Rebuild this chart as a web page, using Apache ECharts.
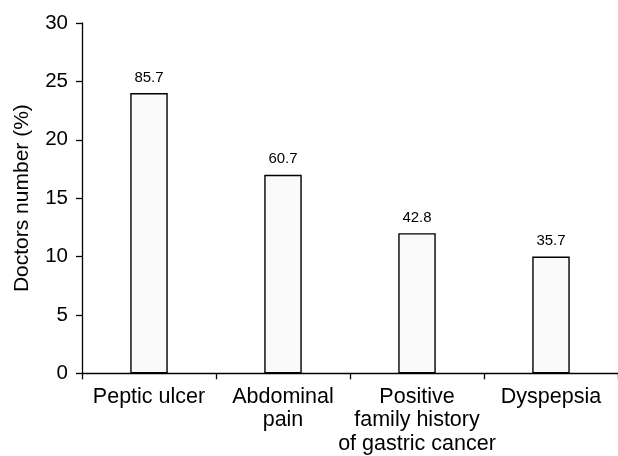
<!DOCTYPE html>
<html>
<head>
<meta charset="utf-8">
<script src="https://cdn.jsdelivr.net/npm/echarts@6/dist/echarts.min.js"></script>
<style>
  html, body { margin: 0; padding: 0; background: #fff; }
  #chart { width: 618px; height: 456px; }
</style>
</head>
<body>
<div id="chart"></div>
<script>
// categories and values
let categories = ['Peptic ulcer', 'Abdominal\npain', 'Positive\nfamily history\nof gastric cancer', 'Dyspepsia'];
let doctorsNumber = [24, 17, 12, 10];
let percentLabels = ['85.7', '60.7', '42.8', '35.7'];

let font = 'Liberation Sans, Arial, sans-serif';
let myChart = echarts.init(document.getElementById('chart'));

// the plot runs a little past the right edge of the picture, so the last tick is cut off
let option = {
    animation: false,
    grid: { left: 82, width: 537.3, top: 23, bottom: 82.7 },
    xAxis: {
        type: 'category',
        data: categories,
        axisLine: { show: true, lineStyle: { color: '#000', width: 1.3 } },
        axisTick: {
            show: true,
            alignWithLabel: false,
            length: 6,
            interval: 0,
            lineStyle: { color: '#000', width: 1.3 }
        },
        axisLabel: {
            interval: 0,
            color: '#000',
            fontFamily: font,
            fontSize: 21.5,
            lineHeight: 23.5,
            margin: 12
        }
    },
    yAxis: {
        type: 'value',
        min: 0,
        max: 30,
        interval: 5,
        name: 'Doctors number (%)',
        nameLocation: 'middle',
        nameGap: 49,
        nameTextStyle: { color: '#000', fontFamily: font, fontSize: 21 },
        axisLine: { show: true, lineStyle: { color: '#000', width: 1.3 } },
        axisTick: { show: true, length: 6, lineStyle: { color: '#000', width: 1.3 } },
        axisLabel: { color: '#000', fontFamily: font, fontSize: 20.5, margin: 14 },
        splitLine: { show: false }
    },
    series: [
        {
            type: 'bar',
            data: doctorsNumber,
            barWidth: 37.5,
            itemStyle: { color: '#fafafa', borderColor: '#000', borderWidth: 1.4 },
            label: {
                show: true,
                position: 'top',
                distance: 8,
                color: '#000',
                fontFamily: font,
                fontSize: 15,
                formatter: (p) => percentLabels[p.dataIndex]
            }
        }
    ]
};

myChart.setOption(option);
</script>
</body>
</html>
